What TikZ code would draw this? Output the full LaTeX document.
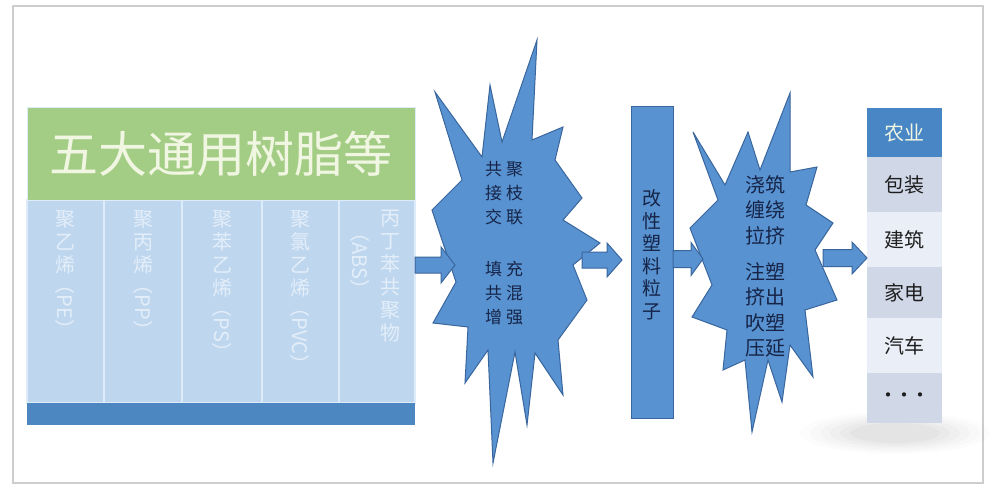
\documentclass[tikz,border=0pt]{standalone}
\usepackage{fontspec}
\setmainfont{Noto Sans CJK SC}
\usetikzlibrary{calc}
\definecolor{framegray}{RGB}{205,205,205}
\definecolor{hdrgreen}{RGB}{163,205,133}
\definecolor{hdrtext}{RGB}{240,246,225}
\definecolor{colblue}{RGB}{190,215,239}
\definecolor{colline}{RGB}{222,235,248}
\definecolor{coltext}{RGB}{228,238,249}
\definecolor{barblue}{RGB}{76,135,194}
\definecolor{starblue}{RGB}{88,146,208}
\definecolor{starline}{RGB}{58,102,158}
\definecolor{navy}{RGB}{22,36,72}
\definecolor{cellA}{RGB}{208,216,232}
\definecolor{cellB}{RGB}{234,238,246}
\definecolor{topcell}{RGB}{72,134,198}
\definecolor{celltext}{RGB}{30,30,30}
\newcommand\vlat[1]{\raisebox{1.35em}{\rotatebox{-90}{#1}}}
\newcommand\onedot{\makebox[16pt]{·}}
\newcommand\blkarrow[5]{%
  \draw[blockarr] ($(#1)+(0,-#3)$) -- ($(#2)+(-#5,-#3)$) -- ($(#2)+(-#5,-#4)$) -- (#2)
    -- ($(#2)+(-#5,#4)$) -- ($(#2)+(-#5,#3)$) -- ($(#1)+(0,#3)$) -- cycle;}
\begin{document}
\begin{tikzpicture}[x=1pt,y=-1pt,
  box/.style={inner sep=0pt, outer sep=0pt, anchor=north west},
  hdrbox/.style={box, fill=hdrgreen, draw=colline, line width=0.8pt, text=hdrtext,
     font=\fontsize{49}{49}\selectfont},
  colbox/.style={box, fill=colblue, draw=colline, line width=1.4pt},
  coltxt/.style={inner sep=0pt, anchor=north, align=center, text=coltext,
     font=\fontsize{20}{23}\selectfont},
  starsty/.style={fill=starblue, draw=starline, line width=1pt, line join=miter},
  blockarr/.style={fill=starblue, draw=starline, line width=1pt},
  startxt/.style={inner sep=0pt, align=center, text=navy, font=\fontsize{17}{24}\selectfont},
  startxtb/.style={inner sep=0pt, align=center, text=navy, font=\fontsize{20}{25.5}\selectfont},
  modbox/.style={box, fill=starblue, draw=starline, line width=1pt},
  cell/.style={box, minimum width=75pt, text=celltext, font=\fontsize{20}{20}\selectfont},
]
\useasboundingbox (0,0) rectangle (995,500);
\fill[white] (0,0) rectangle (995,500);
\draw[framegray, line width=1.3pt] (13,6) rectangle (983,483);

% soft shadow under the list
\foreach \r/\o in {95/0.012,85/0.014,75/0.016,65/0.018,55/0.02,45/0.022}
  \fill[black, opacity=\o] (895,433) ellipse ({\r} and {\r/4.5});

% left block
\node[colbox, minimum width=77pt, minimum height=203pt] (c1) at (27,200) {};
\node[colbox, minimum width=78pt, minimum height=203pt] (c2) at (104,200) {};
\node[colbox, minimum width=80pt, minimum height=203pt] (c3) at (182,200) {};
\node[colbox, minimum width=77pt, minimum height=203pt] (c4) at (262,200) {};
\node[colbox, minimum width=76pt, minimum height=203pt] (c5) at (339,200) {};
\node[hdrbox, minimum width=388pt, minimum height=93pt] (hdr) at (27,107) {五大通用树脂等};
\node[box, fill=barblue, minimum width=388pt, minimum height=22pt] (bot) at (27,403) {};

\node[coltxt] (t1) at ($(c1.north)+(0,10)$) {聚\\乙\\烯\\\vlat{（PE）}};
\node[coltxt] (t2) at ($(c2.north)+(0,10)$) {聚\\丙\\烯\\\vlat{（PP）}};
\node[coltxt] (t3) at ($(c3.north)+(0,10)$) {聚\\苯\\乙\\烯\\\vlat{（PS）}};
\node[coltxt] (t4) at ($(c4.north)+(0,10)$) {聚\\氯\\乙\\烯\\\vlat{（PVC）}};
\node[coltxt] (t5a) at (390,210) {丙\\丁\\苯\\共\\聚\\物};
\node[coltxt] (t5b) at (360,222) {\vlat{（ABS）}};

% starburst 1
\draw[starsty] (435,92) -- (482,157) -- (490,85) -- (502,142) -- (537,40) -- (532,140)
  -- (563,127) -- (555,160) -- (582,198) -- (563,220) -- (600,243) -- (573,265)
  -- (587,300) -- (558,340) -- (563,395) -- (535,353) -- (527,425) -- (515,352)
  -- (493,463) -- (488,350) -- (465,383) -- (468,327) -- (433,323) -- (456,282)
  -- (432,210) -- (462,180) -- cycle;

% starburst 2
\draw[starsty] (693,132) -- (725,185) -- (748,132) -- (760,170) -- (790,93) -- (790,172)
  -- (817,167) -- (806,205) -- (833,223) -- (815,250) -- (837,300) -- (805,310)
  -- (813,377) -- (790,345) -- (782,402) -- (768,360) -- (752,432) -- (745,360)
  -- (723,370) -- (727,330) -- (692,317) -- (712,285) -- (690,228) -- (718,200) -- cycle;

% modified pellets bar
\node[modbox, minimum width=42pt, minimum height=311pt] (mod) at (631,107) {};
\node[inner sep=0pt, align=center, text=navy, font=\fontsize{19}{22.5}\selectfont]
  (modt) at (652,255) {改\\性\\塑\\料\\粒\\子};

% application list
\node[cell, fill=topcell, minimum height=49pt, text=hdrtext] (l1) at (867,108) {农业};
\node[cell, fill=cellA, minimum height=55pt] (l2) at (867,157) {包装};
\node[cell, fill=cellB, minimum height=55pt] (l3) at (867,212) {建筑};
\node[cell, fill=cellA, minimum height=51pt] (l4) at (867,267) {家电};
\node[cell, fill=cellB, minimum height=55pt] (l5) at (867,318) {汽车};
\node[cell, fill=cellA, minimum height=50pt] (l6) at (867,373) {\onedot\onedot\onedot};

% connector coordinates
\coordinate (s1in) at (455,265);
\coordinate (a1s) at (hdr.east |- s1in);
\coordinate (s1out) at (582,260);
\coordinate (a2e) at (622,260);
\coordinate (a3s) at (mod.east |- 0,259);
\coordinate (s2in) at (703,259);
\coordinate (s2out) at (823,258);
\coordinate (a4e) at (l3.west |- s2out);

% block arrows
\blkarrow{a1s}{s1in}{8}{18}{14}
\blkarrow{s1out}{a2e}{8}{17}{15}
\blkarrow{a3s}{s2in}{8.5}{16.5}{12}
\blkarrow{s2out}{a4e}{8.5}{16}{15}

% starburst texts
\node[startxt] (st1a) at (504,193) {共\hspace{4pt}聚\\接\hspace{4pt}枝\\交\hspace{4pt}联};
\node[startxt] (st1b) at (504,293) {填\hspace{4pt}充\\共\hspace{4pt}混\\增\hspace{4pt}强};
\node[startxtb] (st2a) at (765,210) {浇筑\\缠绕\\拉挤};
\node[startxtb] (st2b) at (765,310) {注塑\\挤出\\吹塑\\压延};
\end{tikzpicture}
\end{document}
